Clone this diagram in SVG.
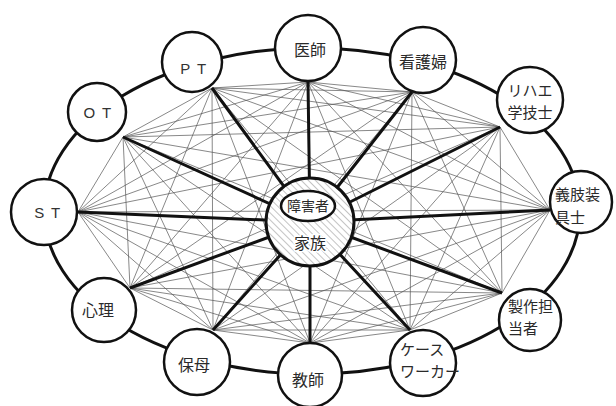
<svg xmlns="http://www.w3.org/2000/svg" width="616" height="406" viewBox="0 0 616 406">
<style>
.node{fill:#fff;stroke:#111;stroke-width:2.5}
.t{font-family:"Noto Sans CJK JP","Noto Sans",sans-serif;font-size:16px;fill:#2a2a2a}
.t2{font-family:"Noto Sans CJK JP","Noto Sans",sans-serif;font-size:15px;fill:#2a2a2a}
.lat{font-family:"Liberation Sans",Arial,sans-serif;font-size:15px;fill:#333;letter-spacing:1.5px}
.thin{fill:none;stroke:#555;stroke-width:0.7}
.spoke{stroke:#111;stroke-width:3;fill:none}
</style>
<defs>
<pattern id="hatch" width="5" height="5" patternUnits="userSpaceOnUse" patternTransform="rotate(-45)">
<line x1="0" y1="0" x2="0" y2="5" stroke="#888" stroke-width="1"/>
</pattern>
</defs>
<rect width="616" height="406" fill="#fff"/>
<g id="connectors">
<ellipse cx="312" cy="211" rx="268" ry="163" fill="none" stroke="#111" stroke-width="3"/>
<path class="thin" d="M308 82L412 92M308 82L500 127M308 82L550 210M308 82L502 293M308 82L410 330M308 82L310 343M308 82L213 330M308 82L130 288M308 82L78 212M308 82L123 137M308 82L212 88
M412 92L500 127M412 92L550 210M412 92L502 293M412 92L410 330M412 92L310 343M412 92L213 330M412 92L130 288M412 92L78 212M412 92L123 137M412 92L212 88
M500 127L550 210M500 127L502 293M500 127L410 330M500 127L310 343M500 127L213 330M500 127L130 288M500 127L78 212M500 127L123 137M500 127L212 88
M550 210L502 293M550 210L410 330M550 210L310 343M550 210L213 330M550 210L130 288M550 210L78 212M550 210L123 137M550 210L212 88
M502 293L410 330M502 293L310 343M502 293L213 330M502 293L130 288M502 293L78 212M502 293L123 137M502 293L212 88
M410 330L310 343M410 330L213 330M410 330L130 288M410 330L78 212M410 330L123 137M410 330L212 88
M310 343L213 330M310 343L130 288M310 343L78 212M310 343L123 137M310 343L212 88
M213 330L130 288M213 330L78 212M213 330L123 137M213 330L212 88
M130 288L78 212M130 288L123 137M130 288L212 88
M78 212L123 137M78 212L212 88
M123 137L212 88"/>
<path class="spoke" d="M308 82L310 222M412 92L310 222M500 127L310 222M550 210L310 222M502 293L310 222M410 330L310 222M310 343L310 222M213 330L310 222M130 288L310 222M78 212L310 222M123 137L310 222M212 88L310 222"/>
</g>
<g id="center">
<circle cx="310" cy="222" r="44" fill="#fff"/>
<circle cx="310" cy="222" r="44" fill="url(#hatch)" stroke="#111" stroke-width="3"/>
<ellipse cx="308" cy="206" rx="27" ry="15" fill="#fff" stroke="#111" stroke-width="2.5"/>
<text class="t" x="308" y="211" text-anchor="middle" style="font-size:14px">障害者</text>
<text class="t" x="310" y="249" text-anchor="middle" stroke="#fff" stroke-width="3" paint-order="stroke">家族</text>
</g>
<g id="n-ishi"><circle class="node" cx="308" cy="48" r="33"/><text class="t" x="310" y="56" text-anchor="middle">医師</text></g>
<g id="n-kango"><circle class="node" cx="423" cy="60" r="33"/><text class="t" x="423" y="68" text-anchor="middle">看護婦</text></g>
<g id="n-riha"><circle class="node" cx="530" cy="100" r="33"/><text class="t2" x="530" y="96" text-anchor="middle">リハエ</text><text class="t2" x="530" y="118" text-anchor="middle">学技士</text></g>
<g id="n-gishi"><circle class="node" cx="581" cy="202" r="31"/><text class="t2" x="555" y="200">義肢装</text><text class="t2" x="555" y="223">具士</text></g>
<g id="n-seisaku"><circle class="node" cx="530" cy="320" r="31"/><text class="t2" x="508" y="312">製作担</text><text class="t2" x="508" y="334">当者</text></g>
<g id="n-case"><circle class="node" cx="423" cy="363" r="33"/><text class="t2" x="400" y="355">ケース</text><text class="t2" x="400" y="377">ワーカー</text></g>
<g id="n-kyoshi"><circle class="node" cx="310" cy="375" r="32"/><text class="t" x="308" y="386" text-anchor="middle">教師</text></g>
<g id="n-hobo"><circle class="node" cx="197" cy="362" r="33"/><text class="t" x="194" y="371" text-anchor="middle">保母</text></g>
<g id="n-shinri"><circle class="node" cx="104" cy="310" r="32"/><text class="t" x="98" y="316" text-anchor="middle">心理</text></g>
<g id="n-st"><circle class="node" cx="44" cy="212" r="33"/><text class="lat" x="48" y="218" text-anchor="middle">S T</text></g>
<g id="n-ot"><circle class="node" cx="97" cy="112" r="29"/><text class="lat" x="98" y="118" text-anchor="middle">O T</text></g>
<g id="n-pt"><circle class="node" cx="192" cy="62" r="30"/><text class="lat" x="194" y="74" text-anchor="middle">P T</text></g>
</svg>
